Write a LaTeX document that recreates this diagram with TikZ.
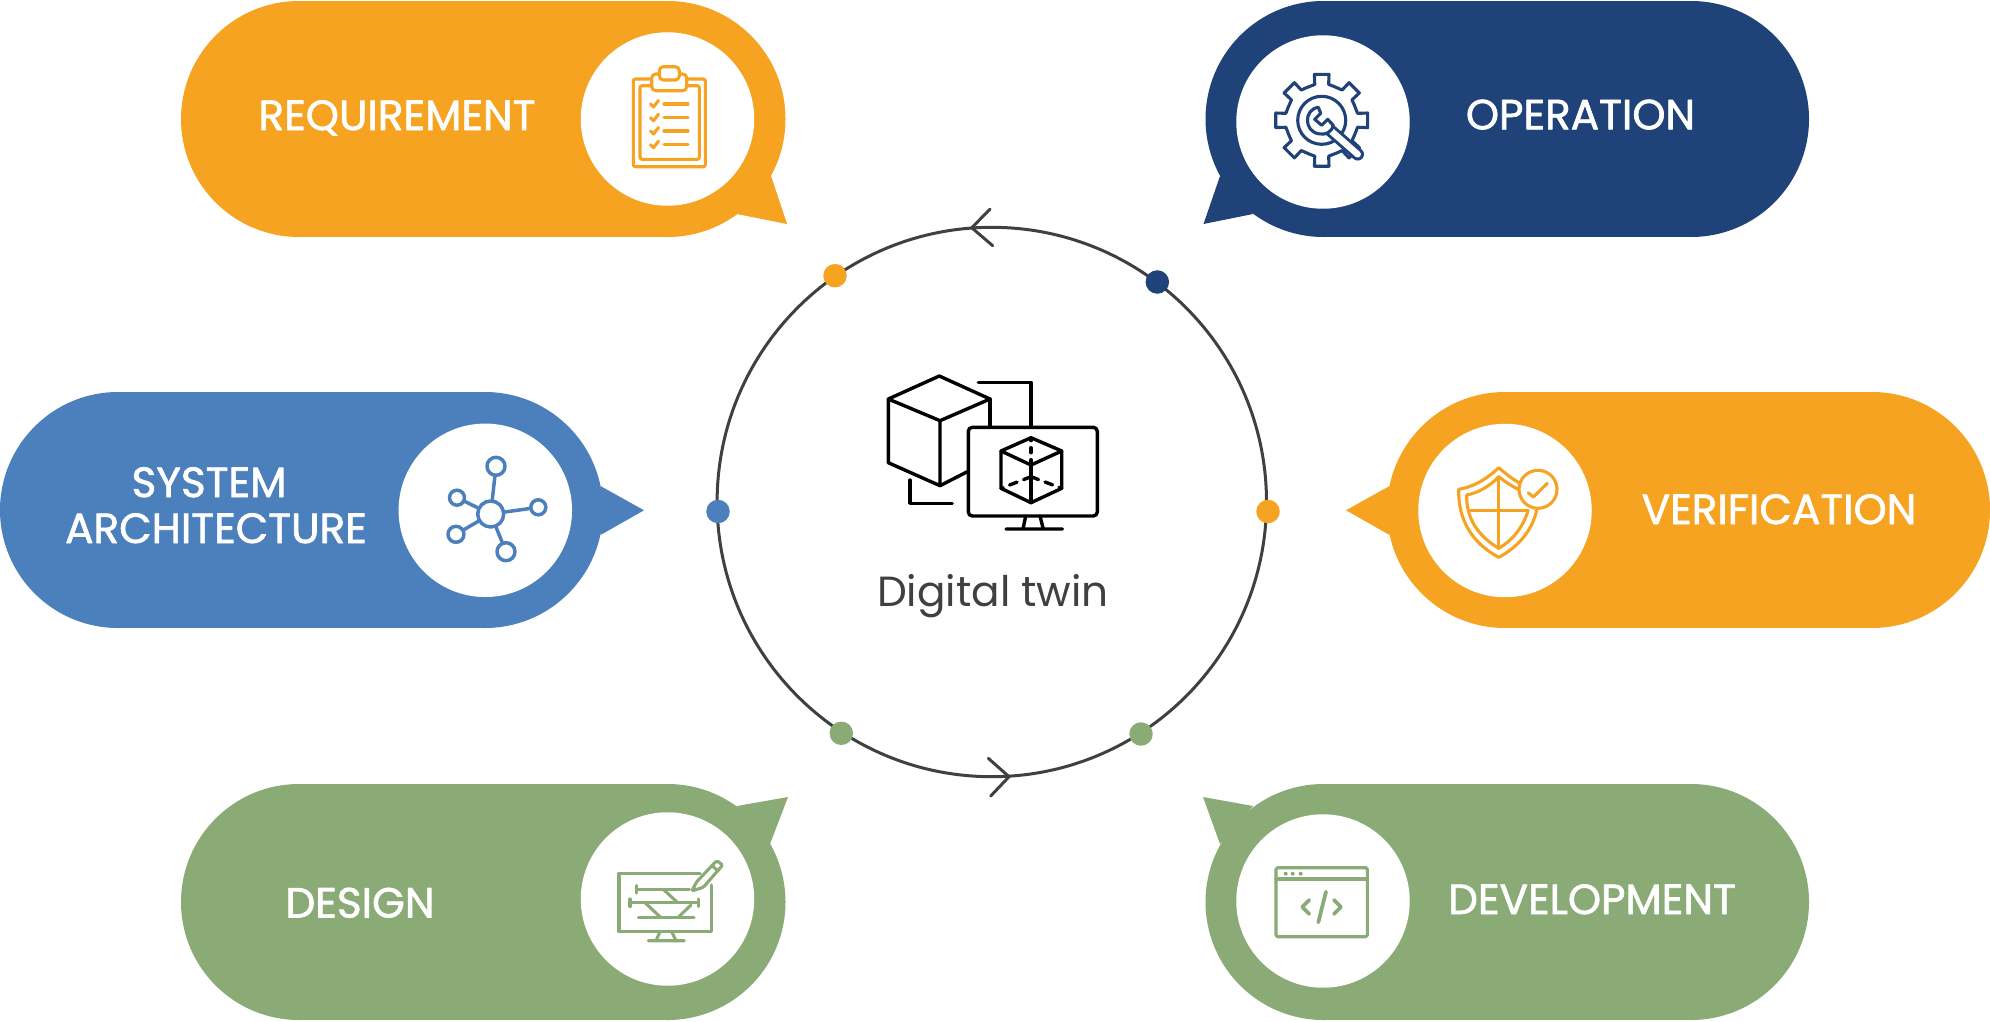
\documentclass[tikz,border=0pt]{standalone}
\usepackage{fontspec}
\setmainfont{Poppins}
\newfontfamily\titlefont[FakeBold=1.6]{Poppins}
\definecolor{orangec}{HTML}{F5A321}
\definecolor{navyc}{HTML}{1F4278}
\definecolor{bluec}{HTML}{4C80BD}
\definecolor{greenc}{HTML}{8AAB76}
\definecolor{inkc}{HTML}{404040}
\usetikzlibrary{positioning}

\begin{document}
\begin{tikzpicture}[x=0.02cm,y=-0.02cm,line join=round,line cap=round]
        \tikzstyle{disc} = [circle,fill=white,minimum size=3.47cm,inner sep=0pt]
        \tikzstyle{title} = [text=white,font=\titlefont\fontsize{24}{26}\selectfont,inner sep=0pt,anchor=base]
        \tikzstyle{dot} = [circle,minimum size=0.47cm,inner sep=0pt]
        \tikzstyle{icon} = [line width=0.068cm]
        \tikzstyle{thin} = [line width=0.062cm]
        \tikzstyle{wire} = [draw=inkc,line width=0.06cm]
        \useasboundingbox (0,0) rectangle (1990,1021);

        % bubbles
        \foreach \xa/\xb/\y/\c in {299/667.5/119/orangec, 1323.5/1691/119/navyc,
          118/485/510/bluec, 1505/1872/510/orangec,
          299/667.5/902/greenc, 1323.5/1691/902/greenc} {
          \fill[\c] (\xa,\y) circle[radius=118];
          \fill[\c] (\xb,\y) circle[radius=118];
          \fill[\c] (\xa,\y-118) rectangle (\xb,\y+118);
        }
        % tails
        \fill[orangec] (771,176) -- (787,224) -- (737,214) -- cycle;
        \fill[navyc] (1220,176) -- (1203.5,224) -- (1253,214) -- cycle;
        \fill[bluec] (600.5,486) -- (644,510.3) -- (600.5,535) -- cycle;
        \fill[orangec] (1389.5,486) -- (1346,510.3) -- (1389.5,535) -- cycle;
        \fill[greenc] (770,844) -- (788,797) -- (737,806) -- cycle;
        \fill[greenc] (1220,844) -- (1203,797) -- (1253,806) -- cycle;

        \foreach \l/\x/\y in {reqdisc/667.5/119, opdisc/1323/122, sysdisc/485.3/510.3,
          verdisc/1505/510.5, desdisc/667.5/899, devdisc/1323/901} {
          \node[disc] (\l) at (\x,\y) {};
        }

        \node[title] (req) at (397,130) {REQUIREMENT};
        \node[title] (op) at (1580.5,129.3) {OPERATION};
        \node[title] (sys) at (209,497) {SYSTEM};
        \node[title] (arch) at (216,543) {ARCHITECTURE};
        \node[title] (ver) at (1779,524) {VERIFICATION};
        \node[title] (des) at (360,917.5) {DESIGN};
        \node[title] (dev) at (1592,914) {DEVELOPMENT};

        % ring
        \node[circle,wire,minimum size=10.99cm,inner sep=0pt] (twin) at (991.8,502) {};
        \coordinate (tiptop) at (971.7,227.7);
        \coordinate (tipbot) at (1009,776.7);
        \draw[wire] (990,209.3) -- (tiptop) -- (992.7,245.7);
        \draw[wire] (988.3,758.3) -- (tipbot) -- (990.7,796);
        \foreach \l/\x/\y/\c in {d1/835/275.7/orangec, d2/1157.3/282/navyc, d3/718/511.5/bluec,
          d4/1268/511.5/orangec, d5/841.3/733.3/greenc, d6/1141/734/greenc} {
          \node[dot,fill=\c] (\l) at (\x,\y) {};
        }
        \node[text=inkc,font=\fontsize{24}{26}\selectfont,inner sep=0pt,anchor=base] (twinlabel) at (993,606.7) {Digital twin};

        % twin icon
        \draw[black,icon] (939.3,376) -- (990,399) -- (940,420.7) -- (888.3,399) -- cycle;
        \draw[black,icon] (888.3,399) -- (888.3,462.7) -- (940,485.7) -- (940,420.7);
        \draw[black,icon] (990,399) -- (990,427.3);
        \draw[black,icon] (940,485.7) -- (967.3,471.7);
        \draw[black,icon] (978.3,382.3) -- (1031,382.3) -- (1031,427.3);
        \draw[black,icon] (910,480) -- (910,503.3) -- (952.3,503.3);
        \draw[black,icon,rounded corners=0.08cm] (968.3,427.3) rectangle (1097.3,516);
        \draw[black,icon] (1025.7,516) -- (1023,529) (1040,516) -- (1043.3,529) (1006,529) -- (1062.3,529);
        \draw[black,icon] (1031,437.7) -- (1061.7,451) -- (1031,465) -- (1001,451) -- cycle;
        \draw[black,icon] (1001,451) -- (1001,488.3) -- (1031,502.7) -- (1061.7,488.3) -- (1061.7,451);
        \draw[black,icon] (1031,465) -- (1031,502.7);
        \draw[black,icon,dash pattern=on 0.1cm off 0.14cm] (1031,476.7) -- (1031,440);
        \draw[black,icon,dash pattern=on 0.16cm off 0.14cm] (1031,476.7) -- (1001,488.3);
        \draw[black,icon,dash pattern=on 0.16cm off 0.14cm] (1031,476.7) -- (1061.7,488.3);

        % clipboard
        \begin{scope}[orangec,thin]
          \draw[rounded corners=0.04cm] (651.7,79) -- (633.3,79) -- (633.3,166.7) -- (705.3,166.7) -- (705.3,79) -- (686.7,79);
          \draw[rounded corners=0.04cm] (651.7,85.7) -- (640,85.7) -- (640,159.3) -- (699.3,159.3) -- (699.3,85.7) -- (686.7,85.7);
          \draw[rounded corners=0.08cm,fill=white] (651.7,74) rectangle (686.7,90.7);
          \draw[rounded corners=0.08cm,fill=white] (659.3,66.7) rectangle (679.3,80);
          \foreach \y in {104,117.7,131,144.7} {
            \draw (664,\y) -- (688,\y);
            \draw (650.5,\y) -- (653.5,\y+3) -- (658.5,\y-3.5);
          }
        \end{scope}

        % gear
        \begin{scope}[navyc,thin,shift={(1321.7,120.3)}]
          \draw (-25:36) \foreach \a in {0,45,...,315} {
            -- (\a-25:36) -- (\a-11:36.5) -- (\a-9:46.5) -- (\a+9:46.5) -- (\a+11:36.5)
          } -- cycle;
          \draw (0,0) circle[radius=24];
          \draw[line width=0.25cm] (4,6) -- (36,34);
          \draw[white,line width=0.13cm] (4,6) -- (36,34);
          \fill[white] (-2,1) circle[radius=12.5];
          \draw (-3.4,-13) .. controls (-18,-11) and (-18,11) .. (-3,13.5) .. controls (4,15) and (10,12) .. (11.5,5)
            -- (6,-1) -- (0,5) -- (-7,-1) -- (-1,-7) -- cycle;
        \end{scope}

        % network
        \foreach \l/\x/\y/\r in {hub/490.7/514/13, n1/496/466.3/9, n2/538.3/507.3/7.5,
          n3/506/551.7/9, n4/456/534.3/8, n5/457/497.7/7.5} {
          \node[circle,draw=bluec,line width=0.07cm,inner sep=0pt,minimum size=\r*0.04cm] (\l) at (\x,\y) {};
        }
        \foreach \a in {n1,n2,n3,n4,n5} {
          \draw[bluec,line width=0.07cm] (hub) -- (\a);
        }

        % shield
        \begin{scope}[orangec,thin]
          \draw (1520,483.3) .. controls (1512,479) and (1505,473) .. (1498.7,467.7)
            .. controls (1488,478) and (1474,487) .. (1458.7,489.3)
            .. controls (1458,520) and (1472,543) .. (1498.7,557.3)
            .. controls (1518,547) and (1532,531) .. (1536.7,510);
          \draw (1518,489.3) .. controls (1510,485) and (1504,481) .. (1498.7,476.7)
            .. controls (1490,486) and (1478,493) .. (1466.7,495)
            .. controls (1466,518) and (1478,536) .. (1498.7,548.3)
            .. controls (1513,540) and (1523,527) .. (1528,510.7);
          \draw (1498.7,476.7) -- (1498.7,548.3);
          \draw (1470.7,510.7) -- (1528,510.7);
          \draw (1538,489.3) circle[radius=19];
          \draw (1528.3,492.7) -- (1533.3,497) -- (1547.3,483.3);
        \end{scope}

        % design
        \begin{scope}[greenc,thin]
          \draw (700,873.3) -- (619,873.3) -- (619,931.7) -- (711.7,931.7) -- (711.7,885);
          \draw (660,931.7) -- (656,940.7) (671.7,931.7) -- (676,940.7) (648.3,940.7) -- (684.3,940.7);
          \draw (636.7,889.3) -- (689.3,889.3) (636.7,885.5) -- (636.7,893);
          \draw (630,902.7) -- (698.3,902.7) (630,899) -- (630,906.5) (698.3,899) -- (698.3,906.5);
          \draw (638.3,917.7) -- (694,917.7);
          \draw (663.3,889.3) -- (677.7,902.7) (645,902.7) -- (661,917.7) (691,905) -- (677.7,917.7);
          \draw[rounded corners=0.03cm] (691.7,891) -- (696.7,881.7) -- (716.7,860.7) -- (722.7,865) -- (703.3,887.3) -- cycle;
          \draw (712,865.5) -- (718,871);
          \fill (691.7,891) -- (693.5,885.5) -- (697.5,889.5) -- cycle;
        \end{scope}

        % code window
        \begin{scope}[greenc,thin]
          \draw[rounded corners=0.03cm] (1276,867.7) rectangle (1367.3,936.7);
          \draw (1276,879) -- (1367.3,879);
          \foreach \x in {1285.7,1292.7,1300.7} {
            \fill (\x,873.7) circle[radius=2];
          }
          \draw[line width=0.075cm] (1309.3,900) -- (1302.3,907) -- (1309.3,914);
          \draw[line width=0.075cm] (1334,900) -- (1341,907) -- (1334,914);
          \draw[line width=0.075cm] (1326,891.7) -- (1318.3,922.3);
        \end{scope}
\end{tikzpicture}
\end{document}
